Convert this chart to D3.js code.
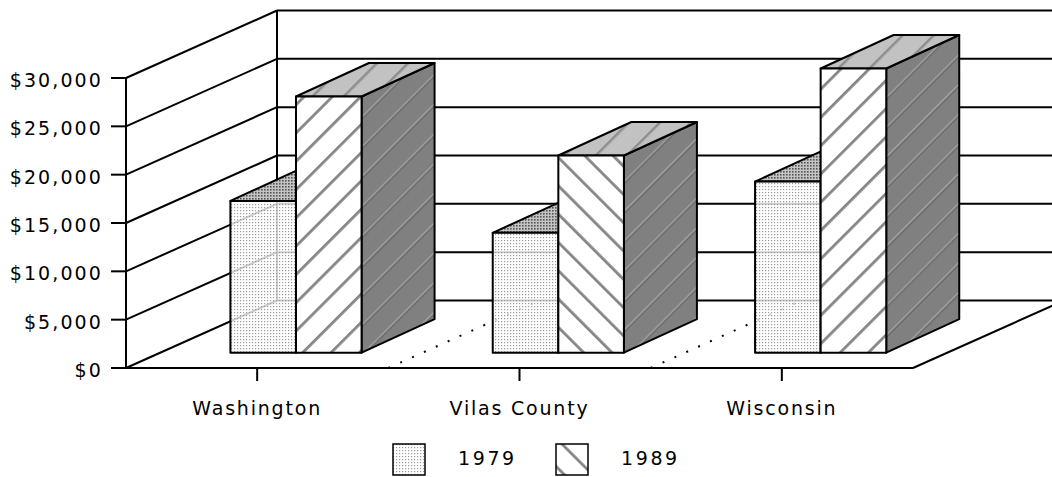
<!DOCTYPE html>
<html>
<head>
<meta charset="utf-8">
<script src="https://cdn.jsdelivr.net/npm/d3@7"></script>
<style>
  html, body { margin: 0; padding: 0; background: #fff; }
  text { font-family: "DejaVu Sans", sans-serif; fill: #000; }
</style>
</head>
<body>
<svg id="chart"></svg>
<script>
// data
const categories = ["Washington", "Vilas County", "Wisconsin"];
const series = ["1979", "1989"];
const values1979 = [15700, 12400, 17700];
const values1989 = [26500, 20400, 29400];
const yTicks = [0, 5000, 10000, 15000, 20000, 25000, 30000];

const width = 1052, height = 477;

const svg = d3.select("#chart")
  .attr("width", width)
  .attr("height", height);

// front plane scales
const x = d3.scaleBand().domain(categories).range([126, 913]);
const y = d3.scaleLinear().domain([0, 30000]).range([368, 78]);
const bw = x.bandwidth();

// offset from the front plane to the back wall
const depth = { dx: 151, dy: -67.5 };
// bars sit a bit inside the floor and have their own depth
const barLift = 15.3;
const barDepth = { dx: 73, dy: -33.5 };
const inner = d3.scaleBand().domain(series).range([0, bw * 0.5]);
const groupInset = bw * 0.398;

const fmt = v => "$" + d3.format(",")(v);

// patterns
const defs = svg.append("defs");

const dots = defs.append("pattern")
  .attr("id", "dots").attr("patternUnits", "userSpaceOnUse")
  .attr("width", 3).attr("height", 3);
dots.append("rect").attr("width", 1.2).attr("height", 1.2).attr("fill", "#9a9a9a");

const dotsDark = defs.append("pattern")
  .attr("id", "dotsDark").attr("patternUnits", "userSpaceOnUse")
  .attr("width", 3).attr("height", 3);
dotsDark.append("rect").attr("width", 3).attr("height", 3).attr("fill", "#c4c4c4");
dotsDark.append("rect").attr("width", 1.6).attr("height", 1.6).attr("fill", "#555");

function stripes(id, angle, bg, fg, gap, lw) {
  const p = defs.append("pattern")
    .attr("id", id).attr("patternUnits", "userSpaceOnUse")
    .attr("width", gap).attr("height", gap)
    .attr("patternTransform", "rotate(" + angle + ")");
  p.append("rect").attr("width", gap).attr("height", gap).attr("fill", bg);
  p.append("rect").attr("x", 2).attr("width", lw).attr("height", gap).attr("fill", fg);
  return p;
}
stripes("hatch", 45, "#fff", "#858585", 20, 2.8);
stripes("hatchBack", -45, "#fff", "#858585", 20, 2.8);
stripes("hatchTop", 45, "#c2c2c2", "#8e8e8e", 22, 2.5);
const side = stripes("hatchSide", 45, "#808080", "#a6a6a6", 21, 1.6);
side.append("rect").attr("x", 3.6).attr("width", 1).attr("height", 21).attr("fill", "#5c5c5c");

const line = (x1, y1, x2, y2) => svg.append("line")
  .attr("x1", x1).attr("y1", y1).attr("x2", x2).attr("y2", y2)
  .attr("stroke", "#000").attr("stroke-width", 2);

const x0 = x.range()[0], x1 = x.range()[1];
const backRight = x1 + depth.dx;

// walls: left wall diagonals and back wall horizontals
yTicks.forEach(t => {
  line(x0, y(t), x0 + depth.dx, y(t) + depth.dy);
  line(x0 + depth.dx, y(t) + depth.dy, backRight, y(t) + depth.dy);
});
line(x0, y(0), x0, y(30000));
line(x0 + depth.dx, y(0) + depth.dy, x0 + depth.dx, y(30000) + depth.dy);

// floor
line(x0, y(0), x1, y(0));
line(x1, y(0), backRight, y(0) + depth.dy);

// dotted dividers on the floor
categories.slice(1).forEach(c => {
  svg.append("line")
    .attr("x1", x(c)).attr("y1", y(0))
    .attr("x2", x(c) + depth.dx).attr("y2", y(0) + depth.dy)
    .attr("stroke", "#000").attr("stroke-width", 2)
    .attr("stroke-dasharray", "2,11");
});

// y axis ticks and labels
yTicks.forEach(t => {
  line(111, y(t), x0, y(t));
  svg.append("text")
    .attr("x", 103).attr("y", y(t) + 9)
    .attr("text-anchor", "end")
    .attr("font-size", 19).attr("letter-spacing", 2.1)
    .text(fmt(t));
});

// x axis ticks and labels
categories.forEach(c => {
  const cx = x(c) + bw / 2;
  line(cx, y(0), cx, y(0) + 13);
  svg.append("text")
    .attr("x", cx).attr("y", 415)
    .attr("text-anchor", "middle")
    .attr("font-size", 19).attr("letter-spacing", 1.8)
    .text(c);
});

// bars
const pts = a => a.map(p => p.join(",")).join(" ");
const bars = [];
categories.forEach((c, ci) => {
  bars.push({ c, s: "1979", v: values1979[ci], ci });
  bars.push({ c, s: "1989", v: values1989[ci], ci });
});

bars.forEach(d => {
  const fx = x(d.c) + groupInset + inner(d.s);
  const w = inner.bandwidth();
  const yb = y(0) - barLift;
  const yt = y(d.v) - barLift;
  const g = svg.append("g");
  const top = [[fx, yt], [fx + w, yt], [fx + w + barDepth.dx, yt + barDepth.dy], [fx + barDepth.dx, yt + barDepth.dy]];
  const right = [[fx + w, yt], [fx + w + barDepth.dx, yt + barDepth.dy], [fx + w + barDepth.dx, yb + barDepth.dy], [fx + w, yb]];
  const front = [[fx, yt], [fx + w, yt], [fx + w, yb], [fx, yb]];
  const poly = (p, fill) => g.append("polygon").attr("points", pts(p))
    .attr("fill", fill).attr("stroke", "#000").attr("stroke-width", 2)
    .attr("stroke-linejoin", "round");

  if (d.s === "1979") {
    poly(right, "url(#dotsDark)");
    poly(top, "url(#dotsDark)");
    g.append("polygon").attr("points", pts(front)).attr("fill", "#fff").attr("fill-opacity", 0.8);
    poly(front, "url(#dots)");
  } else {
    poly(right, "url(#hatchSide)");
    poly(top, "url(#hatchTop)");
    poly(front, d.ci === 1 ? "url(#hatchBack)" : "url(#hatch)");
  }
});

// legend
const legend = [
  { s: "1979", bx: 393, tx: 458, fill: "url(#dots)" },
  { s: "1989", bx: 556, tx: 621, fill: "url(#hatchBack)" }
];
legend.forEach(l => {
  svg.append("rect")
    .attr("x", l.bx).attr("y", 444).attr("width", 32).attr("height", 31)
    .attr("fill", l.fill).attr("stroke", "#000").attr("stroke-width", 1.5);
  svg.append("text")
    .attr("x", l.tx).attr("y", 465)
    .attr("font-size", 19).attr("letter-spacing", 2.6)
    .text(l.s);
});
</script>
</body>
</html>
